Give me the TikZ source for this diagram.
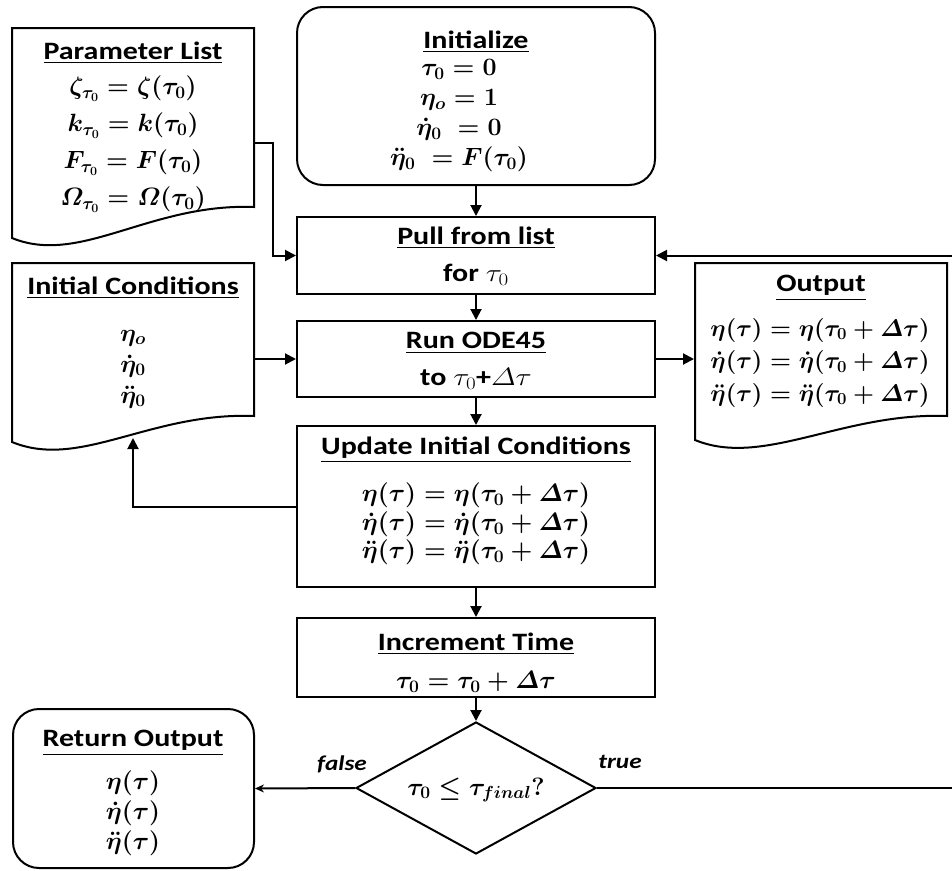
\RequirePackage{fix-cm}
\documentclass[tikz,border=0pt]{standalone}
\usepackage{amsmath}
\usepackage{graphicx}
\usepackage[no-math]{fontspec}
\setmainfont{Carlito}
\usetikzlibrary{arrows.meta,shapes.geometric}
\newcommand\sx[1]{\scalebox{1.2}[1]{#1}}
\newcommand\docshape[5]{%
  \draw (#1,#2) -- (#3,#2) -- (#3,#4) .. controls ({#3-104},{#4-4}) and ({#1+68},{#5+28}) .. (#1,#5) -- cycle;}
\begin{document}
\begin{tikzpicture}[x=1pt,y=-1pt,line width=2pt,
  box/.style={draw, rectangle, minimum width=358pt, inner sep=0pt},
  rbox/.style={box, rounded corners=26pt},
  ghost/.style={rectangle, inner sep=0pt},
  arr/.style={-{Triangle[length=11pt,width=11pt]}},
  farr/.style={-{Stealth[length=9pt,width=8pt]}},
  txt/.style={inner sep=0pt, align=center},
  hd/.style={txt, font=\fontsize{25}{30}\selectfont\bfseries},
  mth/.style={txt, font=\fontsize{25}{#1}\selectfont\boldmath},
  mth/.default=30,
  mths/.style={txt, font=\fontsize{24}{#1}\selectfont\boldmath},
  lbl/.style={inner sep=0pt, font=\fontsize{21}{25}\selectfont\bfseries\itshape}]
\fill[white] (0,0) rectangle (952,870);
\useasboundingbox (0,0) rectangle (952,870);
% process boxes
\node[rbox, minimum height=178pt] (init) at (476,96) {};
\node[box, minimum height=77pt] (pull) at (476,255.5) {};
\node[box, minimum height=76pt] (run) at (476,359) {};
\node[box, minimum height=161pt] (upd) at (476,506.5) {};
\node[box, minimum height=79pt] (inc) at (476,657.5) {};
\node[draw, diamond, minimum width=240pt, minimum height=132pt, inner sep=0pt] (dec) at (476,788) {};
\node[rbox, minimum width=241pt, minimum height=159pt] (ret) at (133.5,788.5) {};
% document shapes
\node[ghost, minimum width=242pt, minimum height=179pt] (plist) at (133,117.5) {};
\docshape{12}{28}{254}{207}{238}
\node[ghost, minimum width=242pt, minimum height=153pt] (ic) at (133,339.5) {};
\docshape{12}{263}{254}{416}{442}
\node[ghost, minimum width=252pt, minimum height=153pt] (out) at (821,339.5) {};
\docshape{695}{263}{947}{416}{440}
% texts
\node[hd] (plh) at (133,53) {\sx{\underline{Parameter List}}};
\node[mth=37] (plb) at (133,144) {$\zeta_{\tau_0}=\zeta(\tau_0)$\\$k_{\tau_0}=k(\tau_0)$\\$F_{\tau_0}=F(\tau_0)$\\$\varOmega_{\tau_0}=\varOmega(\tau_0)$};
\node[hd] (inh) at (476,42) {\sx{\underline{Initialize}}};
\node[mth=30] (inb) at (459,115.5) {$\tau_0=0$\\$\eta_o=1$\\$\dot\eta_0\;=0$\\$\ddot\eta_0\;=F(\tau_0)$};
\node[hd] (puh) at (476,238) {\sx{\underline{Pull from list}}};
\node[hd] (pub) at (476,275) {\sx{for $\tau_0$}};
\node[hd] (ruh) at (476,343) {\sx{\underline{Run ODE45}}};
\node[hd] (rub) at (476,379) {\sx{to $\tau_0$+$\varDelta\tau$}};
\node[hd] (ich) at (133,288) {\sx{\underline{Initial Conditions}}};
\node[mth=31] (icb) at (133,369) {$\eta_o$\\$\dot\eta_0$\\$\ddot\eta_0$};
\node[hd] (outh) at (821,288) {\sx{\underline{Output}}};
\node[mths=32.5] (outb) at (820,362.5) {$\eta(\tau)=\eta(\tau_0+\varDelta\tau)$\\$\dot\eta(\tau)=\dot\eta(\tau_0+\varDelta\tau)$\\$\ddot\eta(\tau)=\ddot\eta(\tau_0+\varDelta\tau)$};
\node[hd] (uph) at (476,450) {\sx{\underline{Update Initial Conditions}}};
\node[mth=28.5] (upb) at (476,524) {$\eta(\tau)=\eta(\tau_0+\varDelta\tau)$\\$\dot\eta(\tau)=\dot\eta(\tau_0+\varDelta\tau)$\\$\ddot\eta(\tau)=\ddot\eta(\tau_0+\varDelta\tau)$};
\node[hd] (ich2) at (476,644) {\sx{\underline{Increment Time}}};
\node[mth] (icb2) at (476,682) {$\tau_0=\tau_0+\varDelta\tau$};
\node[mth] (dect) at (476,790) {$\tau_0\leq\tau_{final}?$};
\node[hd] (reth) at (133,743) {\sx{\underline{Return Output}}};
\node[mth=30] (retb) at (133,813) {$\eta(\tau)$\\$\dot\eta(\tau)$\\$\ddot\eta(\tau)$};
\node[lbl] (lf) at (342,764) {\sx{false}};
\node[lbl] (lt) at (620,762) {\sx{true}};
% connectors
\coordinate (plout) at (254,143);
\coordinate (icin) at (133,438);
\coordinate (rc) at (957,788);
\draw[arr] (init) -- (pull);
\draw[arr] (pull) -- (run);
\draw[arr] (run) -- (upd);
\draw[arr] (upd) -- (inc);
\draw[arr] (inc) -- (dec);
\draw[arr] (plout) -- ++(19,0) |- (pull.west);
\draw[arr] (run.west -| ic.east) -- (run.west);
\draw[arr] (run.east) -- (run.east -| out.west);
\draw[arr] (upd.west) -| (icin);
\draw[arr] (dec.east) -- (rc) |- (pull.east);
\draw[farr] (dec.west) -- (ret.east);
\end{tikzpicture}
\end{document}
